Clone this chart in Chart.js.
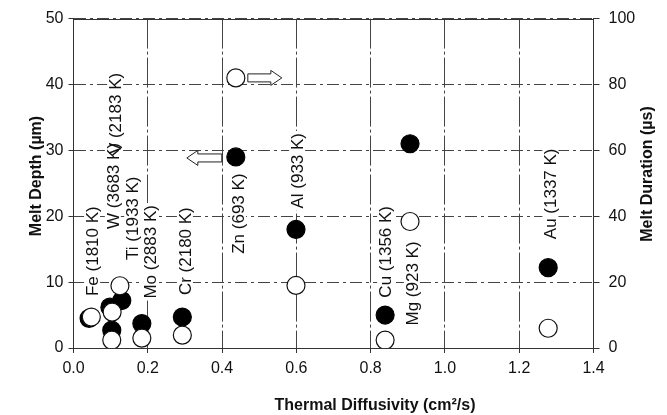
<!DOCTYPE html>
<html><head><meta charset="utf-8">
<script src="https://cdn.jsdelivr.net/npm/chart.js@4/dist/chart.umd.min.js"></script>
<style>html,body{margin:0;padding:0;background:#fff}canvas{display:block}</style>
</head><body>
<canvas id="c" width="667" height="415"></canvas>
<script>
// ---- data ----
const materials = ['Fe (1810 K)', 'W (3683 K)', 'V (2183 K)', 'Ti (1933 K)', 'Mo (2883 K)', 'Cr (2180 K)', 'Zn (693 K)', 'Al (933 K)', 'Cu (1356 K)', 'Mg (923 K)', 'Au (1337 K)'];
const depthDiffusivity    = [0.042, 0.103, 0.098, 0.130, 0.184, 0.293, 0.437, 0.599, 0.839, 0.906, 1.278];
const meltDepth           = [4.5, 2.7, 6.2, 7.2, 3.7, 4.7, 29, 18, 5.0, 31, 12.2];        // µm, left axis
const durationDiffusivity = [0.048, 0.103, 0.104, 0.125, 0.184, 0.293, 0.437, 0.599, 0.839, 0.906, 1.278];
const meltDuration        = [9.4, 2.4, 10.9, 18.9, 3.0, 3.9, 82, 19, 2.4, 38.4, 6];       // µs, right axis
const xTickValues = [0, 0.2, 0.4, 0.6, 0.8, 1.0, 1.2, 1.4];
const depthTicks = [0, 10, 20, 30, 40, 50];
const durationTicks = [0, 20, 40, 60, 80, 100];
const arrowMaterial = 'Zn (693 K)';

// ---- layout (label centres in data units of x / left axis) ----
const labelAnchors = [[0.050,14.7],[0.106,24.6],[0.112,35.6],[0.158,19.7],[0.206,14.6],[0.300,14.7],[0.443,20.4],[0.602,26.9],[0.839,14.6],[0.911,9.8],[1.284,23.4]];

const FONT = '"Liberation Sans", Arial, Helvetica, sans-serif';
const INK = '#111';

const labelsPlugin = {
  id: 'materialLabels',
  beforeDatasetsDraw(chart) {
    const {ctx, scales} = chart;
    ctx.save();
    ctx.font = '17px ' + FONT;
    ctx.textAlign = 'center'; ctx.textBaseline = 'middle';
    // white text boxes first (they hide the grid behind the labels)
    materials.forEach((m, i) => {
      const px = scales.x.getPixelForValue(labelAnchors[i][0]);
      const py = scales.y.getPixelForValue(labelAnchors[i][1]);
      const w = ctx.measureText(m).width;
      ctx.fillStyle = '#fff';
      ctx.fillRect(px - 8, py - w / 2 - 2, 16, w + 4);
    });
    ctx.fillStyle = INK;
    materials.forEach((m, i) => {
      const px = scales.x.getPixelForValue(labelAnchors[i][0]);
      const py = scales.y.getPixelForValue(labelAnchors[i][1]);
      ctx.save(); ctx.translate(px, py); ctx.rotate(-Math.PI / 2); ctx.fillText(m, 0, 1); ctx.restore();
    });
    ctx.restore();
  }
};

const annotate = {
  id: 'annotate',
  afterDraw(chart) {
    const {ctx, chartArea: a} = chart;
    ctx.save();
    // solid top edge of the plot frame
    ctx.setLineDash([]);
    ctx.strokeStyle = '#333'; ctx.lineWidth = 1;
    const ty = Math.round(a.top) + 0.5;
    ctx.beginPath(); ctx.moveTo(a.left, ty); ctx.lineTo(a.right, ty); ctx.stroke();
    ctx.fillStyle = INK;
    ctx.textAlign = 'center'; ctx.textBaseline = 'middle';
    ctx.font = 'bold 16px ' + FONT;
    ctx.save(); ctx.translate(37, 176); ctx.rotate(-Math.PI/2); ctx.fillText('Melt Depth (\u00b5m)', 0, 0); ctx.restore();
    ctx.save(); ctx.translate(648, 174); ctx.rotate(-Math.PI/2); ctx.fillText('Melt Duration (\u00b5s)', 0, 0); ctx.restore();
    ctx.fillText('Thermal Diffusivity (cm\u00b2/s)', 375, 406);
    // block arrows at the Zn points
    const k = materials.indexOf(arrowMaterial);
    const pOpen = chart.getDatasetMeta(0).data[k];
    const pFill = chart.getDatasetMeta(1).data[k];
    const arrow = (x0, x1, y) => {
      const dir = Math.sign(x1 - x0), hl = 11, sh = 4, hh = 7.5;
      const xb = x1 - dir * hl;
      ctx.beginPath();
      ctx.moveTo(x0, y - sh); ctx.lineTo(xb, y - sh); ctx.lineTo(xb, y - hh); ctx.lineTo(x1, y);
      ctx.lineTo(xb, y + hh); ctx.lineTo(xb, y + sh); ctx.lineTo(x0, y + sh); ctx.closePath();
      ctx.fillStyle = '#fff'; ctx.fill();
      ctx.strokeStyle = '#222'; ctx.lineWidth = 1; ctx.stroke();
    };
    arrow(pOpen.x + 12, pOpen.x + 46, pOpen.y);
    arrow(pFill.x - 14, pFill.x - 49, pFill.y + 1);
    ctx.restore();
  }
};

new Chart(document.getElementById('c'), {
  type: 'scatter',
  data: {
    datasets: [
      { label: 'Melt Duration', yAxisID: 'y2', order: 0,
        data: durationDiffusivity.map((x, i) => ({x, y: meltDuration[i]})),
        pointRadius: 9, pointBackgroundColor: '#fff', pointBorderColor: '#111', pointBorderWidth: 1.2 },
      { label: 'Melt Depth', yAxisID: 'y', order: 1,
        data: depthDiffusivity.map((x, i) => ({x, y: meltDepth[i]})),
        pointRadius: 9, pointBackgroundColor: '#000', pointBorderColor: '#000', pointBorderWidth: 1.2 }
    ]
  },
  options: {
    responsive: false, animation: false, devicePixelRatio: 1,
    layout: { padding: { top: 15, left: 0, right: 0, bottom: 0 }, autoPadding: false },
    plugins: { legend: { display: false }, tooltip: { enabled: false } },
    scales: {
      x: {
        type: 'linear', min: 0, max: 1.4,
        afterBuildTicks: s => { s.ticks = xTickValues.map(v => ({value: v})); },
        afterFit: s => { s.height = 67; },
        ticks: { color: INK, font: { family: FONT, size: 16 }, padding: 6, callback: v => v.toFixed(1) },
        grid: { color: '#444', lineWidth: 1, tickLength: 5, tickColor: '#333', tickBorderDash: [] },
        border: { color: '#333', width: 1, dash: [30, 3, 3, 3] }
      },
      y: {
        type: 'linear', position: 'left', min: 0, max: 50,
        afterBuildTicks: s => { s.ticks = depthTicks.map(v => ({value: v})); },
        afterFit: s => { s.width = 73.5; },
        ticks: { color: INK, font: { family: FONT, size: 16 }, padding: 5 },
        grid: { color: '#444', lineWidth: 1, tickLength: 5, tickColor: '#333', tickBorderDash: [] },
        border: { color: '#333', width: 1, dash: [12, 4, 3, 4] }
      },
      y2: {
        type: 'linear', position: 'right', min: 0, max: 100,
        afterBuildTicks: s => { s.ticks = durationTicks.map(v => ({value: v})); },
        afterFit: s => { s.width = 73.5; },
        ticks: { color: INK, font: { family: FONT, size: 16 }, padding: 9 },
        grid: { drawOnChartArea: false, tickLength: 6, tickColor: '#333' },
        border: { color: '#333', width: 1 }
      }
    }
  },
  plugins: [labelsPlugin, annotate]
});
</script>
</body></html>
